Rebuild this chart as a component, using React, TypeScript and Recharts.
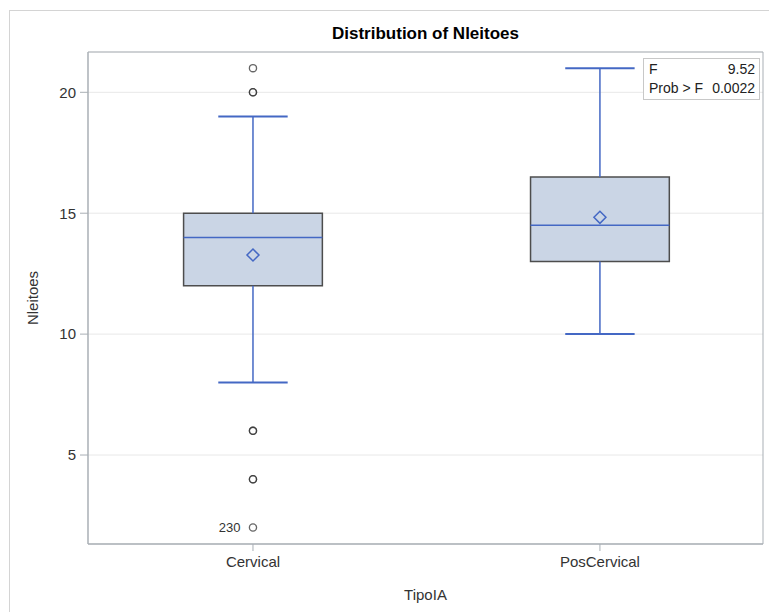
import {
  ComposedChart,
  XAxis,
  YAxis,
  CartesianGrid,
  ReferenceArea,
  ReferenceLine,
  Scatter,
  LabelList,
} from "recharts";

const categories = ["Cervical", "PosCervical"];
const whiskerLow = [8, 10];
const q1 = [12, 13];
const median = [14, 14.5];
const q3 = [15, 16.5];
const whiskerHigh = [19, 21];
const means = [13.27, 14.83];
const outlierValues = [21, 20, 20, 6, 6, 4, 4, 2];
const outlierLabels = ["", "", "", "", "", "", "", "230"];
const yTicks = [5, 10, 15, 20];
const fStat = "9.52";
const probF = "0.0022";

const FONT = "'Liberation Sans Narrow', 'Liberation Sans', Arial, sans-serif";
const BLUE = "#4468C4";
const BOX_FILL = "#CAD5E5";
const BOX_EDGE = "#4D4D4D";
const AXIS = "#A9AFB5";

const meanData = means.map((m, i) => ({ x: i + 1, y: m }));
const outlierData = outlierValues.map((v, i) => ({ x: 1, y: v, label: outlierLabels[i] }));

const Diamond = (props: any) => {
  const { cx, cy } = props;
  const r = 6;
  return (
    <path
      d={`M${cx},${cy - r}L${cx + r},${cy}L${cx},${cy + r}L${cx - r},${cy}Z`}
      fill="none"
      stroke={BLUE}
      strokeWidth={1.5}
    />
  );
};

const Ring = (props: any) => {
  const { cx, cy } = props;
  return <circle cx={cx} cy={cy} r={3.6} fill="none" stroke="#333" strokeOpacity={0.75} strokeWidth={1.3} />;
};

const App = () => {
  const xDomain = [0.5245, 2.47];
  const yDomain = [1.32, 21.667];
  return (
    <div
      style={{
        position: "absolute",
        left: 0,
        top: 0,
        width: 769,
        height: 612,
        overflow: "hidden",
        background: "#fff",
        fontFamily: FONT,
      }}
    >
      <div
        style={{
          position: "absolute",
          left: 9,
          top: 10,
          width: 900,
          height: 900,
          border: "1px solid #D4D4D4",
        }}
      />
      <div
        style={{
          position: "absolute",
          left: 88,
          width: 675,
          top: 24,
          textAlign: "center",
          fontWeight: "bold",
          fontSize: 17,
          color: "#000",
          fontFamily: FONT,
        }}
      >
        Distribution of Nleitoes
      </div>
      <div style={{ position: "absolute", left: 0, top: 0 }}>
        <ComposedChart
          width={769}
          height={612}
          margin={{ top: 52, right: 6, bottom: 0, left: 0 }}
        >
          <CartesianGrid vertical={false} stroke="#E8E8E8" />
          <XAxis
            type="number"
            dataKey="x"
            domain={xDomain}
            ticks={[1, 2]}
            allowDataOverflow
            tickFormatter={(v) => categories[v - 1]}
            height={68}
            tickSize={7}
            tickMargin={5}
            stroke={AXIS}
            tick={{ fill: "#333", fontSize: 15, fontFamily: FONT }}
            label={{
              value: "TipoIA",
              position: "insideBottom",
              offset: 12,
              fill: "#333",
              fontSize: 15,
              fontFamily: FONT,
            }}
          />
          <YAxis
            type="number"
            dataKey="y"
            domain={yDomain}
            ticks={yTicks}
            allowDataOverflow
            width={88}
            tickSize={8}
            tickMargin={4}
            stroke={AXIS}
            tick={{ fill: "#333", fontSize: 15, fontFamily: FONT }}
            label={{
              value: "Nleitoes",
              angle: -90,
              position: "center",
              dx: -11,
              fill: "#333",
              fontSize: 15,
              fontFamily: FONT,
            }}
          />
          <ReferenceArea
            x1={xDomain[0]}
            x2={xDomain[1]}
            y1={yDomain[0]}
            y2={yDomain[1]}
            fill="none"
            stroke={AXIS}
            strokeWidth={1}
          />
          {categories.map((c, i) => (
            <ReferenceLine
              key={`wl-${c}`}
              segment={[
                { x: i + 1, y: whiskerLow[i] },
                { x: i + 1, y: q1[i] },
              ]}
              stroke={BLUE}
              strokeWidth={1.5}
            />
          ))}
          {categories.map((c, i) => (
            <ReferenceLine
              key={`wh-${c}`}
              segment={[
                { x: i + 1, y: q3[i] },
                { x: i + 1, y: whiskerHigh[i] },
              ]}
              stroke={BLUE}
              strokeWidth={1.5}
            />
          ))}
          {categories.map((c, i) => (
            <ReferenceLine
              key={`cl-${c}`}
              segment={[
                { x: i + 0.9, y: whiskerLow[i] },
                { x: i + 1.1, y: whiskerLow[i] },
              ]}
              stroke={BLUE}
              strokeWidth={2}
            />
          ))}
          {categories.map((c, i) => (
            <ReferenceLine
              key={`ch-${c}`}
              segment={[
                { x: i + 0.9, y: whiskerHigh[i] },
                { x: i + 1.1, y: whiskerHigh[i] },
              ]}
              stroke={BLUE}
              strokeWidth={2}
            />
          ))}
          {categories.map((c, i) => (
            <ReferenceArea
              key={`box-${c}`}
              x1={i + 0.8}
              x2={i + 1.2}
              y1={q1[i]}
              y2={q3[i]}
              fill={BOX_FILL}
              fillOpacity={1}
              stroke={BOX_EDGE}
              strokeWidth={1.5}
            />
          ))}
          {categories.map((c, i) => (
            <ReferenceLine
              key={`med-${c}`}
              segment={[
                { x: i + 0.8, y: median[i] },
                { x: i + 1.2, y: median[i] },
              ]}
              stroke={BLUE}
              strokeWidth={1.5}
            />
          ))}
          <Scatter data={meanData} shape={<Diamond />} isAnimationActive={false} />
          <Scatter data={outlierData} shape={<Ring />} isAnimationActive={false}>
            <LabelList
              dataKey="label"
              position="left"
              offset={8}
              fill="#333"
              fontSize={13}
              fontFamily={FONT}
            />
          </Scatter>
        </ComposedChart>
      </div>
      <div
        style={{
          position: "absolute",
          left: 643,
          top: 58,
          width: 117,
          height: 42,
          border: "1px solid #C8C8C8",
          background: "#fff",
          fontSize: 14,
          color: "#222",
          fontFamily: FONT,
          boxSizing: "border-box",
          padding: "1px 4px 0 5px",
          lineHeight: "19px",
        }}
      >
        <div style={{ display: "flex", justifyContent: "space-between" }}>
          <span>F</span>
          <span>{fStat}</span>
        </div>
        <div style={{ display: "flex", justifyContent: "space-between" }}>
          <span>Prob &gt; F</span>
          <span>{probF}</span>
        </div>
      </div>
    </div>
  );
};

export default App;
